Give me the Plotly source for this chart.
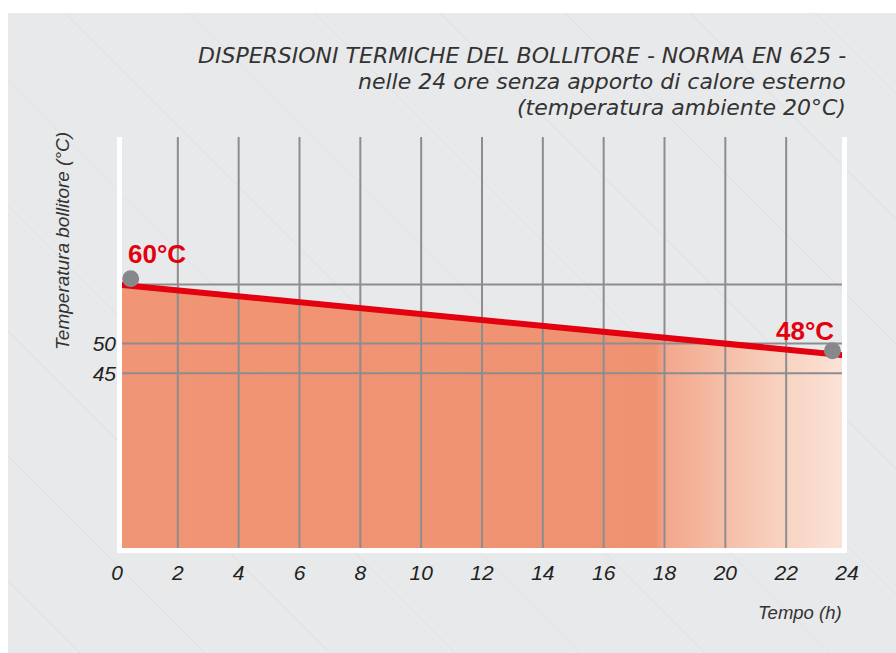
import plotly.graph_objects as go

# ---------------- data ----------------
time_h = [0, 24]                       # hours
temp_c = [60, 48]                      # boiler temperature (°C)
marker_time = [0.45, 23.52]
marker_temp = [60.96, 48.79]
label_text = ["60°C", "48°C"]
x_tick_vals = [0, 2, 4, 6, 8, 10, 12, 14, 16, 18, 20, 22, 24]
x_grid_vals = [2, 4, 6, 8, 10, 12, 14, 16, 18, 20, 22]
y_tick_vals = [45, 50]
y_grid_vals = [45, 50, 60]
title_lines = [
    "DISPERSIONI TERMICHE DEL BOLLITORE - NORMA EN 625 -",
    "nelle 24 ore senza apporto di calore esterno",
    "(temperatura ambiente 20°C)",
]

# ---------------- layout geometry (pixels) ----------------
W, H = 896, 653
L, R, T, B = 117, 847, 137, 553        # plot area incl. white frame strips
X_RANGE = [0, 24]
Y_RANGE = [14.57, 84.96]


def pxx(x):
    return (x - L) / (R - L)


def pxy(y):
    return (B - y) / (B - T)


FONT = "Liberation Sans, Arial, sans-serif"
TFONT = "DejaVu Sans, Liberation Sans, sans-serif"
GRID = "#8d8d8f"
BLUE = "rgb(186,220,243)"
SALMON = "rgb(240,149,117)"
RED = "#e3000f"

fig = go.Figure()

# area under the line with gradient
fig.add_trace(go.Scatter(
    x=time_h, y=temp_c, mode="lines", line=dict(width=0),
    fill="tozeroy",
    fillgradient=dict(type="horizontal",
                      colorscale=[[0, SALMON], [0.737, "rgb(239,146,113)"],
                                  [0.751, "rgb(242,167,140)"], [0.83, "rgb(245,190,167)"],
                                  [0.916, "rgb(248,211,194)"], [0.99, "rgb(251,226,214)"],
                                  [1, "rgb(251,228,217)"]]),
    hoverinfo="skip", showlegend=False))

# grid lines (drawn as traces so they sit over the fill)
gx, gy = [], []
for v in x_grid_vals:
    gx += [v, v, None]
    gy += [Y_RANGE[0], Y_RANGE[1], None]
for v in y_grid_vals:
    gx += [X_RANGE[0], X_RANGE[1], None]
    gy += [v, v, None]
fig.add_trace(go.Scatter(x=gx, y=gy, mode="lines", line=dict(color=GRID, width=2),
                         hoverinfo="skip", showlegend=False))

# red cooling line
fig.add_trace(go.Scatter(x=time_h, y=temp_c, mode="lines", line=dict(color=RED, width=6),
                         showlegend=False))

# grey end markers
fig.add_trace(go.Scatter(x=marker_time, y=marker_temp, mode="markers",
                         marker=dict(color="#87888c", size=17, line=dict(width=0)),
                         cliponaxis=False, showlegend=False))

# ---------------- background shapes ----------------
shapes = []
PX0, PY0, PX1, PY1 = 8, 13, 896, 653
shapes.append(dict(type="rect", xref="paper", yref="paper", layer="below",
                   x0=pxx(PX0), x1=pxx(PX1), y0=pxy(PY1), y1=pxy(PY0),
                   fillcolor="#e8e9ea", line=dict(width=0)))
for x0 in range(-560, 900, 125):
    ya = max(PY0, PY0 + PX0 - x0)
    yb = min(PY1, PY0 + PX1 - x0)
    if yb <= ya:
        continue
    xa = x0 + (ya - PY0)
    xb = x0 + (yb - PY0)
    shapes.append(dict(type="line", xref="paper", yref="paper", layer="below",
                       x0=pxx(xa), y0=pxy(ya), x1=pxx(xb), y1=pxy(yb),
                       line=dict(color="#dfe0e2", width=1)))
# white frame strips (left, right, bottom) over the plot
for (a, b, c, d) in [(117, 122, 137, 553), (842, 847, 137, 553), (117, 847, 548, 553)]:
    shapes.append(dict(type="rect", xref="paper", yref="paper", layer="above",
                       x0=pxx(a), x1=pxx(b), y0=pxy(d), y1=pxy(c),
                       fillcolor="white", line=dict(width=0)))

# ---------------- annotations ----------------
ann = []
for line, yc in zip(title_lines, [56, 81.5, 107]):
    ann.append(dict(text=line, xref="paper", yref="paper", x=pxx(848), y=pxy(yc),
                    xanchor="right", yanchor="middle", showarrow=False,
                    font=dict(family=TFONT, size=22, color="#333333", style="italic",
                              weight=300)))
ann.append(dict(text="Temperatura bollitore (°C)", xref="paper", yref="paper",
                x=pxx(62), y=pxy(241), textangle=-90, xanchor="center", yanchor="middle",
                showarrow=False,
                font=dict(family=FONT, size=19, color="#333333", style="italic")))
ann.append(dict(text="Tempo (h)", xref="paper", yref="paper", x=pxx(844), y=pxy(612),
                xanchor="right", yanchor="middle", showarrow=False,
                font=dict(family=FONT, size=18.5, color="#333333", style="italic")))
ann.append(dict(text="<b>%s</b>" % label_text[0], x=0.30, y=65.2, xanchor="left",
                yanchor="middle", showarrow=False,
                font=dict(family=FONT, size=26, color=RED)))
ann.append(dict(text="<b>%s</b>" % label_text[1], x=23.63, y=52.2, xanchor="right",
                yanchor="middle", showarrow=False,
                font=dict(family=FONT, size=26, color=RED)))

fig.update_layout(
    width=W, height=H, autosize=False,
    margin=dict(l=L, r=W - R, t=T, b=H - B, pad=0),
    paper_bgcolor="white", plot_bgcolor=BLUE,
    shapes=shapes, annotations=ann, showlegend=False,
    xaxis=dict(range=X_RANGE, showgrid=False, zeroline=False, showline=False,
               tickvals=x_tick_vals, ticktext=[str(v) for v in x_tick_vals],
               ticks="outside", ticklen=1, tickcolor="rgba(0,0,0,0)",
               tickfont=dict(family=FONT, size=21, color="#222222", style="italic")),
    yaxis=dict(range=Y_RANGE, showgrid=False, zeroline=False, showline=False,
               tickvals=y_tick_vals, ticktext=[str(v) for v in y_tick_vals],
               ticks="", tickfont=dict(family=FONT, size=21, color="#222222", style="italic")),
)

fig.write_html("out.html", config={"displayModeBar": False},
               post_script="document.body.style.margin='0';")
